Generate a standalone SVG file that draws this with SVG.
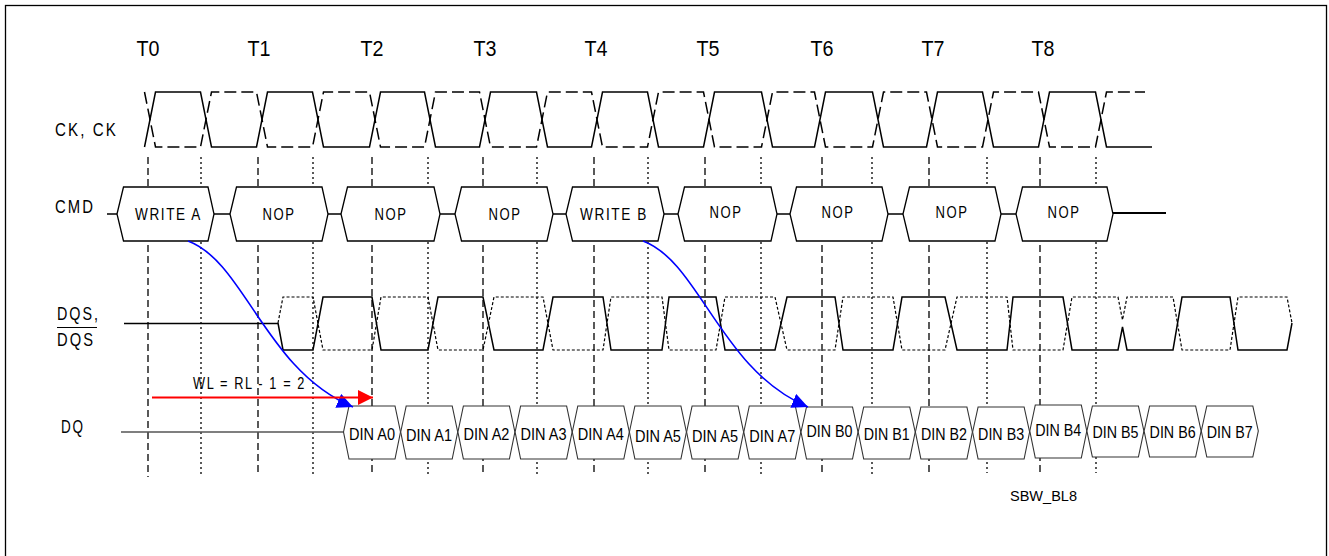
<svg xmlns="http://www.w3.org/2000/svg" width="1329" height="556" viewBox="0 0 1329 556">
<style>
text{font-family:"Liberation Sans",Arial,sans-serif;fill:#000}
.tl{font-size:22px;text-anchor:middle}
.sig{font-size:18px;letter-spacing:2.5px}
.cmdt{font-size:17px;text-anchor:middle;letter-spacing:2px}
.dint{font-size:16px;text-anchor:middle}
.hex{fill:#fff;stroke:#000;stroke-width:1.3}
.din{fill:#fff;stroke:#333;stroke-width:1.1}
.vd{stroke:#000;stroke-width:1.3;stroke-dasharray:7,4;fill:none}
.vo{stroke:#000;stroke-width:1.3;stroke-dasharray:2,3;fill:none}
.ck{stroke:#000;stroke-width:1.5;fill:none}
.ckd{stroke:#000;stroke-width:1.5;fill:none;stroke-dasharray:12,5}
.dqs{stroke:#000;stroke-width:1.5;fill:none}
.dqsd{stroke:#000;stroke-width:1.2;fill:none;stroke-dasharray:3,2}
.wire{stroke:#000;stroke-width:1.3;fill:none}
</style>
<defs>
<marker id="ab" markerUnits="userSpaceOnUse" markerWidth="17" markerHeight="15" refX="16" refY="7.5" orient="auto"><path d="M0,0 L16,7.5 L0,15 Z" fill="#0000ff"/></marker>
<marker id="ar" markerUnits="userSpaceOnUse" markerWidth="16" markerHeight="16" refX="15" refY="7.5" orient="auto"><path d="M0,0 L15,7.5 L0,15 Z" fill="#ff0000"/></marker>
</defs>
<rect x="5.5" y="5.5" width="1321" height="570" fill="#fff" stroke="#000" stroke-width="1.3"/>

<g id="time-labels">
<text class="tl" x="148" y="56" textLength="23" lengthAdjust="spacingAndGlyphs">T0</text>
<text class="tl" x="259" y="56" textLength="23" lengthAdjust="spacingAndGlyphs">T1</text>
<text class="tl" x="372" y="56" textLength="23" lengthAdjust="spacingAndGlyphs">T2</text>
<text class="tl" x="485" y="56" textLength="23" lengthAdjust="spacingAndGlyphs">T3</text>
<text class="tl" x="596" y="56" textLength="23" lengthAdjust="spacingAndGlyphs">T4</text>
<text class="tl" x="708" y="56" textLength="23" lengthAdjust="spacingAndGlyphs">T5</text>
<text class="tl" x="822" y="56" textLength="23" lengthAdjust="spacingAndGlyphs">T6</text>
<text class="tl" x="933" y="56" textLength="23" lengthAdjust="spacingAndGlyphs">T7</text>
<text class="tl" x="1043" y="56" textLength="23" lengthAdjust="spacingAndGlyphs">T8</text>
</g>

<g id="signal-labels">
<text class="sig" x="55" y="136" textLength="63" lengthAdjust="spacingAndGlyphs">CK, CK</text>
<text class="sig" x="55" y="213" textLength="40" lengthAdjust="spacingAndGlyphs">CMD</text>
<text class="sig" x="57" y="320" textLength="43" lengthAdjust="spacingAndGlyphs">DQS,</text>
<line x1="57" y1="327.5" x2="97" y2="327.5" stroke="#000" stroke-width="1.2"/>
<text class="sig" x="57" y="346" textLength="38" lengthAdjust="spacingAndGlyphs">DQS</text>
<text class="sig" x="61" y="433" textLength="24" lengthAdjust="spacingAndGlyphs">DQ</text>
</g>

<g id="gridlines">
<path class="vd" d="M148,157V477M258,157V475M372,157V475M483,157V475M594,157V475M705,157V475M822,157V475M929,157V473M1040,157V473"/>
<path class="vo" d="M201,157V477M313,157V475M428,157V475M537,157V475M648,157V475M761,157V475M872,157V475M987,157V473M1096,157V473"/>
</g>

<g id="ck">
<path class="ck" d="M144.5,147 L155.5,92 L200.5,92 L211.5,147 L256.5,147 L267.5,92 L312.5,92 L323.5,147 L369.5,147 L380.5,92 L424.5,92 L435.5,147 L479.5,147 L490.5,92 L536.5,92 L547.5,147 L591.5,147 L602.5,92 L647.5,92 L658.5,147 L703.5,147 L714.5,92 L761.5,92 L772.5,147 L814.5,147 L825.5,92 L872.5,92 L883.5,147 L926.5,147 L937.5,92 L982.5,92 L993.5,147 L1038.5,147 L1049.5,92 L1095.5,92 L1106.5,147 L1152,147"/>
<path class="ckd" d="M144.5,92 L155.5,147 L200.5,147 L211.5,92 L256.5,92 L267.5,147 L312.5,147 L323.5,92 L369.5,92 L380.5,147 L424.5,147 L435.5,92 L479.5,92 L490.5,147 L536.5,147 L547.5,92 L591.5,92 L602.5,147 L647.5,147 L658.5,92 L703.5,92 L714.5,147 L761.5,147 L772.5,92 L814.5,92 L825.5,147 L872.5,147 L883.5,92 L926.5,92 L937.5,147 L982.5,147 L993.5,92 L1038.5,92 L1049.5,147 L1095.5,147 L1106.5,92 L1145,92"/>
</g>

<g id="cmd-wires">
<path class="wire" d="M107,214H117M214,214H230M328,214H341M440,214H455M553,214H566M664,214H678M777,214H790M888,214H903M1001,214H1016"/>
<path d="M1113,213H1166" stroke="#000" stroke-width="2" fill="none"/>
</g>
<g id="cmd-write-a"><polygon class="hex" points="117,214 123.5,187 208,187 214,214 208,241 123.5,241"/><text class="cmdt" x="168.5" y="220" textLength="67" lengthAdjust="spacingAndGlyphs">WRITE A</text></g>
<g id="cmd-nop-1"><polygon class="hex" points="230,214 236.5,187 322,187 328,214 322,241 236.5,241"/><text class="cmdt" x="279" y="220" textLength="33" lengthAdjust="spacingAndGlyphs">NOP</text></g>
<g id="cmd-nop-2"><polygon class="hex" points="341,214 347.5,187 434,187 440,214 434,241 347.5,241"/><text class="cmdt" x="391" y="220" textLength="33" lengthAdjust="spacingAndGlyphs">NOP</text></g>
<g id="cmd-nop-3"><polygon class="hex" points="455,214 461.5,187 547,187 553,214 547,241 461.5,241"/><text class="cmdt" x="505" y="220" textLength="33" lengthAdjust="spacingAndGlyphs">NOP</text></g>
<g id="cmd-write-b"><polygon class="hex" points="566,214 572.5,187 658,187 664,214 658,241 572.5,241"/><text class="cmdt" x="614" y="220" textLength="68" lengthAdjust="spacingAndGlyphs">WRITE B</text></g>
<g id="cmd-nop-4"><polygon class="hex" points="678,214 684.5,187 771,187 777,214 771,241 684.5,241"/><text class="cmdt" x="726" y="218" textLength="33" lengthAdjust="spacingAndGlyphs">NOP</text></g>
<g id="cmd-nop-5"><polygon class="hex" points="790,214 796.5,187 882,187 888,214 882,241 796.5,241"/><text class="cmdt" x="838" y="218" textLength="33" lengthAdjust="spacingAndGlyphs">NOP</text></g>
<g id="cmd-nop-6"><polygon class="hex" points="903,214 909.5,187 995,187 1001,214 995,241 909.5,241"/><text class="cmdt" x="952" y="218" textLength="33" lengthAdjust="spacingAndGlyphs">NOP</text></g>
<g id="cmd-nop-7"><polygon class="hex" points="1016,214 1022.5,187 1107,187 1113,214 1107,241 1022.5,241"/><text class="cmdt" x="1064" y="218" textLength="33" lengthAdjust="spacingAndGlyphs">NOP</text></g>

<g id="dqs">
<path class="wire" d="M124,323.5H278"/>
<path class="dqs" d="M278,323 L283,350 L313,350 L323,297 L372,297 L381,350 L428,350 L438,297 L483,297 L494,350 L543,350 L553,297 L603,297 L611,350 L662,350 L669,297 L716,297 L725,350 L775,350 L787,297 L835,297 L843,350 L893,350 L902,297 L945,297 L957,350 L1007,350 L1013,297 L1063,297 L1072,350 L1118,350 L1122.5,327 L1127,350 L1173,350 L1182,297 L1230,297 L1238,350 L1287,350 L1292,323"/>
<path class="dqsd" d="M278,323 L283,297 L313,297 L323,350 L372,350 L381,297 L428,297 L438,350 L483,350 L494,297 L543,297 L553,350 L603,350 L611,297 L662,297 L669,350 L716,350 L725,297 L775,297 L787,350 L835,350 L843,297 L893,297 L902,350 L945,350 L957,297 L1007,297 L1013,350 L1063,350 L1072,297 L1118,297 L1122.5,320 L1127,297 L1173,297 L1182,350 L1230,350 L1238,297 L1287,297 L1292,323"/>
</g>

<g id="dq-wire"><path d="M121,432H343" stroke="#555" stroke-width="1.4" fill="none"/></g>
<g id="din-a0"><polygon class="din" points="343.5,432 349,406 395,406 400.5,432 395,459 349,459"/><text class="dint" x="372" y="440" textLength="46" lengthAdjust="spacingAndGlyphs">DIN A0</text></g>
<g id="din-a1"><polygon class="din" points="400.7,432 406.2,406 452.2,406 457.7,432 452.2,459 406.2,459"/><text class="dint" x="429" y="441" textLength="46" lengthAdjust="spacingAndGlyphs">DIN A1</text></g>
<g id="din-a2"><polygon class="din" points="457.9,432 463.4,406 509.4,406 514.9,432 509.4,459 463.4,459"/><text class="dint" x="486.4" y="440" textLength="46" lengthAdjust="spacingAndGlyphs">DIN A2</text></g>
<g id="din-a3"><polygon class="din" points="515.1,432 520.6,406 566.6,406 572.1,432 566.6,459 520.6,459"/><text class="dint" x="543.6" y="440" textLength="46" lengthAdjust="spacingAndGlyphs">DIN A3</text></g>
<g id="din-a4"><polygon class="din" points="572.3,432 577.8,406 623.8,406 629.3,432 623.8,459 577.8,459"/><text class="dint" x="600.8" y="440" textLength="46" lengthAdjust="spacingAndGlyphs">DIN A4</text></g>
<g id="din-a5"><polygon class="din" points="629.4,432 634.9,406 680.9,406 686.4,432 680.9,459 634.9,459"/><text class="dint" x="657.9" y="442" textLength="46" lengthAdjust="spacingAndGlyphs">DIN A5</text></g>
<g id="din-a5b"><polygon class="din" points="686.6,432 692.1,406 738.1,406 743.6,432 738.1,459 692.1,459"/><text class="dint" x="715.1" y="442" textLength="46" lengthAdjust="spacingAndGlyphs">DIN A5</text></g>
<g id="din-a7"><polygon class="din" points="743.8,432 749.3,406 795.3,406 800.8,432 795.3,459 749.3,459"/><text class="dint" x="772.3" y="442" textLength="46" lengthAdjust="spacingAndGlyphs">DIN A7</text></g>
<g id="din-b0"><polygon class="din" points="801,432 806.5,407 852.5,407 858,432 852.5,459 806.5,459"/><text class="dint" x="829.5" y="437" textLength="46" lengthAdjust="spacingAndGlyphs">DIN B0</text></g>
<g id="din-b1"><polygon class="din" points="858.2,432 863.7,407 909.7,407 915.2,432 909.7,459 863.7,459"/><text class="dint" x="886.7" y="440" textLength="46" lengthAdjust="spacingAndGlyphs">DIN B1</text></g>
<g id="din-b2"><polygon class="din" points="915.4,432 920.9,407 966.9,407 972.4,432 966.9,459 920.9,459"/><text class="dint" x="943.9" y="440" textLength="46" lengthAdjust="spacingAndGlyphs">DIN B2</text></g>
<g id="din-b3"><polygon class="din" points="972.6,432 978.1,407 1024.1,407 1029.6,432 1024.1,459 978.1,459"/><text class="dint" x="1001.1" y="440" textLength="46" lengthAdjust="spacingAndGlyphs">DIN B3</text></g>
<g id="din-b4"><polygon class="din" points="1029.8,431 1035.3,405 1081.3,405 1086.8,431 1081.3,458 1035.3,458"/><text class="dint" x="1058.3" y="436" textLength="46" lengthAdjust="spacingAndGlyphs">DIN B4</text></g>
<g id="din-b5"><polygon class="din" points="1086.9,431 1092.4,406 1138.4,406 1143.9,431 1138.4,457 1092.4,457"/><text class="dint" x="1115.4" y="438" textLength="46" lengthAdjust="spacingAndGlyphs">DIN B5</text></g>
<g id="din-b6"><polygon class="din" points="1144.1,431 1149.6,406 1195.6,406 1201.1,431 1195.6,457 1149.6,457"/><text class="dint" x="1172.6" y="438" textLength="46" lengthAdjust="spacingAndGlyphs">DIN B6</text></g>
<g id="din-b7"><polygon class="din" points="1201.3,431 1206.8,406 1252.8,406 1258.3,431 1252.8,457 1206.8,457"/><text class="dint" x="1229.8" y="438" textLength="46" lengthAdjust="spacingAndGlyphs">DIN B7</text></g>

<g id="connectors">
<path d="M188,241 C245,262 265,370 353,407" stroke="#0000ff" stroke-width="1.6" fill="none" marker-end="url(#ab)"/>
<path d="M643,241 C700,262 720,370 808,407" stroke="#0000ff" stroke-width="1.6" fill="none" marker-end="url(#ab)"/>
<path d="M152,397.5 H373" stroke="#ff0000" stroke-width="2" fill="none" marker-end="url(#ar)"/>
</g>
<text x="193" y="389" font-size="16" letter-spacing="2" textLength="113" lengthAdjust="spacingAndGlyphs">WL = RL - 1 = 2</text>
<text x="1010" y="501" font-size="15" textLength="67" lengthAdjust="spacingAndGlyphs">SBW_BL8</text>
</svg>
